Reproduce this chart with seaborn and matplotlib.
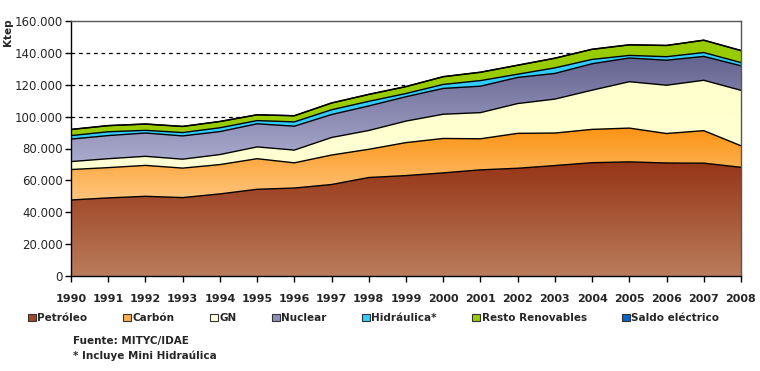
import numpy as np
import pandas as pd
import matplotlib
matplotlib.use("Agg")
import matplotlib.pyplot as plt
import seaborn as sns
from matplotlib.colors import LinearSegmentedColormap
from matplotlib.patches import Patch
from matplotlib.ticker import FuncFormatter

years = [1990, 1991, 1992, 1993, 1994, 1995, 1996, 1997, 1998, 1999,
         2000, 2001, 2002, 2003, 2004, 2005, 2006, 2007, 2008]
petroleo = [47.7, 49.0, 50.0, 49.2, 51.5, 54.4, 55.2, 57.4, 61.8, 63.0,
            64.7, 66.6, 67.6, 69.3, 71.1, 71.6, 70.9, 70.8, 68.2]
carbon = [19.1, 19.0, 19.4, 18.5, 18.4, 19.2, 15.8, 18.5, 17.7, 20.7,
          21.6, 19.5, 21.9, 20.4, 20.9, 21.2, 18.5, 20.4, 13.5]
gn = [5.0, 5.6, 5.7, 5.6, 6.3, 7.4, 8.0, 11.0, 11.8, 13.5,
      15.2, 16.4, 18.7, 21.3, 24.6, 29.1, 30.3, 31.6, 34.8]
nuclear = [14.1, 14.5, 14.6, 14.6, 14.4, 14.5, 15.0, 14.4, 15.4, 15.3,
           16.2, 16.6, 16.4, 16.1, 16.6, 14.9, 15.7, 15.0, 15.4]
hidraulica = [2.2, 2.4, 1.7, 2.1, 2.4, 2.0, 2.7, 3.0, 2.9, 2.0,
              2.5, 3.5, 2.0, 3.5, 2.7, 1.6, 2.2, 2.4, 2.0]
renovables = [3.8, 3.8, 3.9, 3.8, 3.9, 3.6, 3.8, 4.2, 4.3, 4.3,
              4.8, 5.2, 5.6, 6.0, 6.3, 6.6, 7.0, 7.7, 7.5]
saldo = [0.1, 0.1, 0.1, 0.1, 0.1, 0.1, 0.1, 0.1, 0.1, 0.1,
         0.1, 0.1, 0.1, 0.1, 0.1, 0.1, 0.1, 0.1, 0.1]

labels = ["Petróleo", "Carbón", "GN", "Nuclear", "Hidráulica*",
          "Resto Renovables", "Saldo eléctrico"]
series = [petroleo, carbon, gn, nuclear, hidraulica, renovables, saldo]
# (top colour, bottom colour) for each band gradient
band_colors = [("#963516", "#ba7c5c"), ("#fb9414", "#ffc57e"),
               ("#ffffcc", "#ffffd4"), ("#63638f", "#ababcf"),
               ("#33ccff", "#33ccff"), ("#99cc00", "#99cc00"),
               ("#0066cc", "#0066cc")]
legend_colors = ["#a0482a", "#fbb150", "#ffffe0", "#8e8eb8",
                 "#33ccff", "#99cc00", "#0066cc"]

sns.set_style("white")
plt.rcParams["font.family"] = ["DejaVu Sans"]

fig = plt.figure(figsize=(7.6, 3.71), dpi=100)
ax = fig.add_axes([71 / 760, 1 - 276 / 371, 670 / 760, 255 / 371])

x = np.array(years, dtype=float)
data = np.array(series) * 1000.0
cum = np.cumsum(data, axis=0)

# dashed gridlines behind areas
for gv in [100000, 120000, 140000]:
    ax.axhline(gv, color="black", ls=(0, (3, 3)), lw=0.9, zorder=0)

lower = np.zeros_like(x)
for i in range(len(series)):
    upper = cum[i]
    poly = ax.fill_between(x, lower, upper, facecolor="none",
                           edgecolor="none", zorder=1)
    top_c, bot_c = band_colors[i]
    cmap = LinearSegmentedColormap.from_list("g%d" % i, [bot_c, top_c])
    grad = np.linspace(0, 1, 256).reshape(-1, 1)
    ymin, ymax = lower.min(), upper.max()
    im = ax.imshow(grad, extent=[x[0], x[-1], ymin, ymax], origin="lower",
                   aspect="auto", cmap=cmap, zorder=1, interpolation="bilinear")
    im.set_clip_path(poly.get_paths()[0], transform=ax.transData)
    lower = upper

df_lines = pd.DataFrame({"year": np.tile(x, len(series)),
                         "value": cum.ravel(),
                         "serie": np.repeat(labels, len(x))})
sns.lineplot(data=df_lines, x="year", y="value", units="serie",
             estimator=None, color="black", lw=1.0, ax=ax, zorder=3,
             legend=False)

ax.set_xlim(1990, 2008)
ax.set_ylim(0, 160000)
ax.set_xticks(years)
ax.set_xticklabels([str(y) for y in years], fontsize=8, fontweight="bold")
ax.set_yticks(np.arange(0, 160001, 20000))
ax.yaxis.set_major_formatter(FuncFormatter(
    lambda v, p: "0" if v == 0 else f"{int(v):,}".replace(",", ".")))
for t in ax.get_yticklabels():
    t.set_fontsize(8.5)
ax.set_xlabel("")
ax.set_ylabel("")
ax.tick_params(axis="x", direction="out", length=4, width=1, color="black",
               bottom=True, pad=9)
ax.tick_params(axis="y", direction="out", length=4, width=1, color="black",
               left=True, pad=2)
ax.spines["left"].set_color("black")
ax.spines["bottom"].set_color("black")
ax.spines["top"].set_color("#555555")
ax.spines["right"].set_color("#555555")
for s in ax.spines.values():
    s.set_linewidth(1.0)
    s.set_zorder(5)

fig.text(8 / 760, 1 - 32 / 371, "Ktep", rotation=90, fontsize=7.5,
         fontweight="bold", ha="center", va="center")

handles = [Patch(facecolor=c, edgecolor="#333333", lw=0.8)
           for c in legend_colors]
fig.legend(handles, labels, loc="center left",
           bbox_to_anchor=(28 / 760, 1 - 318 / 371), ncol=7, frameon=False,
           prop={"size": 7.5, "weight": "bold"}, handlelength=0.75,
           handleheight=0.75, handletextpad=0.15, columnspacing=3.4,
           borderaxespad=0, borderpad=0)

fig.text(73 / 760, 1 - 341 / 371, "Fuente: MITYC/IDAE", fontsize=7.5,
         fontweight="bold", va="center")
fig.text(73 / 760, 1 - 356 / 371, "* Incluye Mini Hidraúlica", fontsize=7.5,
         fontweight="bold", va="center")

fig.savefig("out.png", dpi=100)
